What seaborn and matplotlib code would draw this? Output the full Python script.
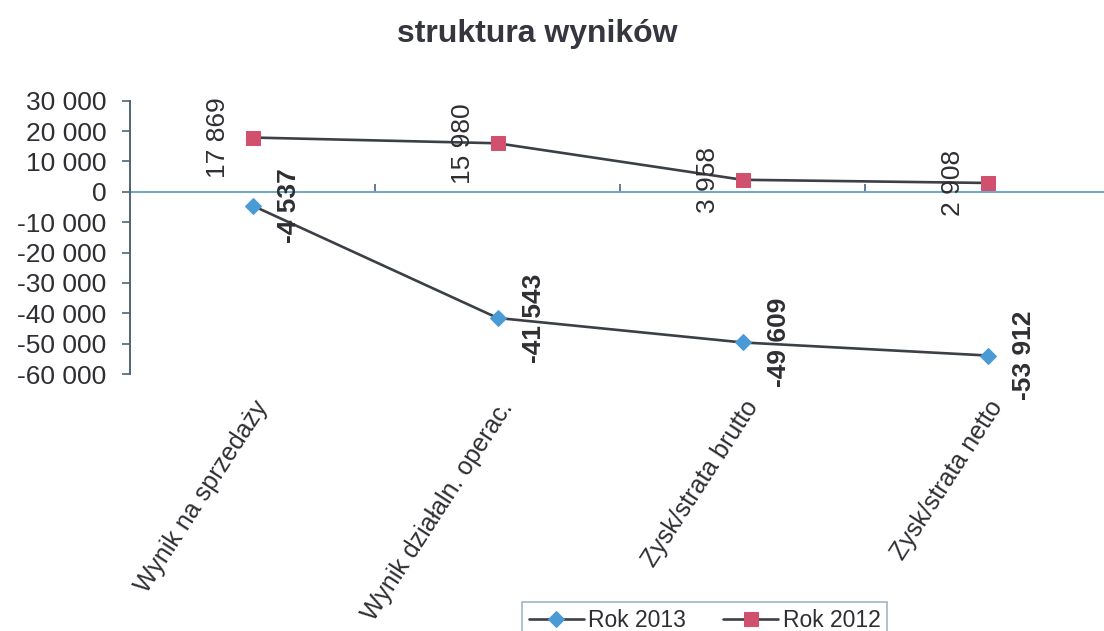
import matplotlib
matplotlib.use("Agg")
import matplotlib.pyplot as plt
import seaborn as sns
import numpy as np
from matplotlib.ticker import FuncFormatter

# chart data
categories = ["Wynik na sprzedaży", "Wynik działaln. operac.",
              "Zysk/strata brutto", "Zysk/strata netto"]
rok_2013 = [-4537, -41543, -49609, -53912]
rok_2012 = [17869, 15980, 3958, 2908]
series_names = ["Rok 2013", "Rok 2012"]
y_ticks = [30000, 20000, 10000, 0, -10000, -20000, -30000, -40000, -50000, -60000]

TEXT = "#2e2e33"
LINE = "#3b3f46"
AXIS = "#4f6577"
ZERO = "#6aa9c6"


def fmt(v):
    return f"{int(v):,}".replace(",", " ")


sns.set_style("white")
plt.rcParams["font.family"] = ["Liberation Sans", "DejaVu Sans"]
plt.rcParams["text.color"] = TEXT

fig = plt.figure(figsize=(11.04, 6.31), dpi=100)
ax = fig.add_axes([130 / 1104, 1 - 374 / 631, 980 / 1104, 273.3 / 631])

# zero line across the whole plot
ax.axhline(0, color=ZERO, linewidth=1.4, zorder=1)

sns.lineplot(x=categories, y=rok_2013, ax=ax, sort=False, color=LINE, linewidth=1.9,
             marker="D", markersize=8, markerfacecolor="#4a9ad6",
             markeredgecolor="#4a9ad6", label=series_names[0], zorder=3)
sns.lineplot(x=categories, y=rok_2012, ax=ax, sort=False, color=LINE, linewidth=1.9,
             marker="s", markersize=10, markerfacecolor="#d0506e",
             markeredgecolor="#d0506e", label=series_names[1], zorder=3)

n = len(categories)
ax.set_xlim(-0.5, n - 0.5)
ax.set_ylim(min(y_ticks), max(y_ticks))
ax.set_yticks(y_ticks)
ax.yaxis.set_major_formatter(FuncFormatter(lambda v, p: fmt(v)))
ax.tick_params(axis="y", direction="out", length=6, width=1.2, color=AXIS,
               labelsize=19, labelcolor=TEXT, pad=11, left=True)

# category labels below the plot
ax.set_xticks(range(n))
ax.set_xticklabels(categories, rotation=57, ha="right", rotation_mode="anchor",
                   fontsize=18, color=TEXT)
ax.tick_params(axis="x", length=0, pad=16)

for s in ["top", "right", "bottom"]:
    ax.spines[s].set_visible(False)
ax.spines["left"].set_color(AXIS)
ax.spines["left"].set_linewidth(1.4)

# category boundary ticks on the zero line
ymin, ymax = ax.get_ylim()
zero_frac = (0 - ymin) / (ymax - ymin)
sec = ax.secondary_xaxis(zero_frac)
sec.set_xticks(np.arange(n + 1) - 0.5)
sec.set_xticklabels([""] * (n + 1))
sec.tick_params(direction="out", length=6, width=1.2, color=AXIS)
for sp in sec.spines.values():
    sp.set_visible(False)

# data labels
for i, v in enumerate(rok_2012):
    ax.annotate(fmt(v), (i, v), xytext=(-25, 0), textcoords="offset points",
                rotation=90, ha="center", va="center", fontsize=19, color=TEXT)
for i, v in enumerate(rok_2013):
    ax.annotate(fmt(v), (i, v), xytext=(26, 0), textcoords="offset points",
                rotation=90, ha="center", va="center", fontsize=19,
                fontweight="bold", color=TEXT)

ax.set_xlabel("")
ax.set_ylabel("")
ax.get_legend().remove()

handles, labels = ax.get_legend_handles_labels()
leg = fig.legend(handles, labels, loc="upper left", bbox_to_anchor=(522 / 1104, 1 - 602 / 631),
                 ncol=2, fontsize=16.5, frameon=True, fancybox=False, handlelength=2.4,
                 columnspacing=1.6, borderpad=0.3, borderaxespad=0, handletextpad=0.2)
leg.get_frame().set_edgecolor("#8aa4b4")
leg.get_frame().set_linewidth(1.2)

fig.suptitle("struktura wyników", x=0.487, y=1 - 19 / 631, va="top",
             fontsize=23, fontweight="bold", color="#35363f")

fig.savefig("out.png", dpi=100, facecolor="white")
